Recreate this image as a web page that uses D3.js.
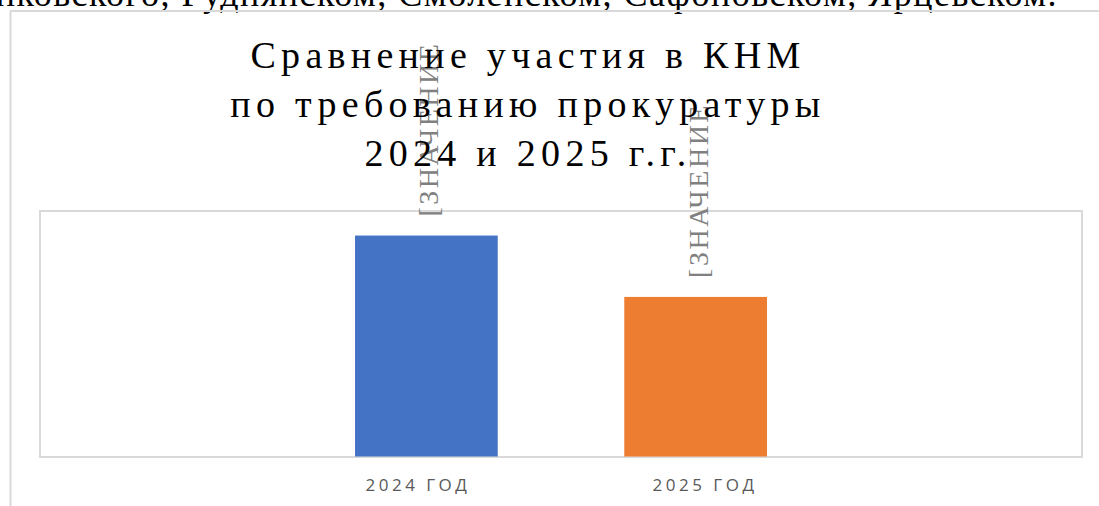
<!DOCTYPE html>
<html>
<head>
<meta charset="utf-8">
<script src="https://cdn.jsdelivr.net/npm/d3@7"></script>
<style>
    body { margin: 0; background: #ffffff; }
    svg { display: block; }
</style>
</head>
<body>
<div id="chart"></div>
<script>
// chart data
var categories = ['2024 год', '2025 год'];
var values = [18, 13];
var colors = ['#4472C4', '#ED7D31'];
var valueLabel = '[ЗНАЧЕНИЕ';
var titleLines = ['Сравнение участия в КНМ', 'по требованию прокуратуры', '2024 и 2025 г.г.'];
var docText = 'Починковского, Руднянском, Смоленском, Сафоновском, Ярцевском.';
var yMax = 20;

var svg = d3.select('#chart')
    .append('svg')
    .attr('width', 1099)
    .attr('height', 506);

// document text above the chart (cut off by the crop)
svg.append('text')
    .attr('x', 1058)
    .attr('y', 6)
    .attr('text-anchor', 'end')
    .attr('font-family', 'Liberation Serif')
    .attr('font-size', '36px')
    .attr('letter-spacing', '1.5px')
    .attr('fill', '#000')
    .text(docText);

// chart frame (left and top edge visible)
svg.append('line')
    .attr('x1', 10.5).attr('y1', 11)
    .attr('x2', 10.5).attr('y2', 506)
    .attr('stroke', '#d9d9d9').attr('stroke-width', 2);
svg.append('line')
    .attr('x1', 10).attr('y1', 11)
    .attr('x2', 1099).attr('y2', 11)
    .attr('stroke', '#d9d9d9').attr('stroke-width', 2);

var plotLeft = 40, plotRight = 1082, plotTop = 211, plotBottom = 457;

var x = d3.scaleBand()
    .domain(categories)
    .range([plotLeft, plotRight])
    .paddingInner(0.47)
    .paddingOuter(1.17);

var xLabels = d3.scalePoint()
    .domain(categories)
    .range([plotLeft, plotRight])
    .padding(1.315);

var y = d3.scaleLinear()
    .domain([0, yMax])
    .range([plotBottom - 0.5, plotTop]);

// plot area border
svg.append('rect')
    .attr('x', plotLeft)
    .attr('y', plotTop)
    .attr('width', plotRight - plotLeft)
    .attr('height', plotBottom - plotTop)
    .attr('fill', 'none')
    .attr('stroke', '#d9d9d9')
    .attr('stroke-width', 2);

// bars
svg.selectAll('.bar')
    .data(values)
    .enter()
    .append('rect')
    .attr('class', 'bar')
    .attr('x', function(d, i) { return x(categories[i]); })
    .attr('y', function(d) { return y(d); })
    .attr('width', x.bandwidth())
    .attr('height', function(d) { return y(0) - y(d); })
    .attr('fill', function(d, i) { return colors[i]; });

// category axis
var axis = svg.append('g')
    .attr('transform', 'translate(0,' + plotBottom + ')')
    .call(d3.axisBottom(xLabels).tickSize(0).tickPadding(22).tickFormat(function(d) { return d.toUpperCase(); }));
axis.select('.domain').remove();
axis.selectAll('text')
    .attr('font-family', 'Open Sans')
    .attr('font-size', '17px')
    .attr('letter-spacing', '3.5px')
    .attr('fill', '#595959');

// rotated value labels
svg.selectAll('.vlabel')
    .data(values)
    .enter()
    .append('text')
    .attr('class', 'vlabel')
    .attr('transform', function(d, i) {
        var cx = x(categories[i]) + x.bandwidth() / 2 + 12;
        return 'translate(' + cx + ',' + (y(d) - 19) + ') rotate(-90)';
    })
    .attr('font-family', 'Liberation Serif')
    .attr('font-size', '28px')
    .attr('letter-spacing', '2.5px')
    .attr('fill', '#808080')
    .text(valueLabel);

// title
svg.append('g')
    .selectAll('text')
    .data(titleLines)
    .enter()
    .append('text')
    .attr('x', 528)
    .attr('y', function(d, i) { return 68 + i * 49; })
    .attr('text-anchor', 'middle')
    .attr('font-family', 'Liberation Serif')
    .attr('font-size', '38px')
    .attr('letter-spacing', '5.3px')
    .attr('fill', '#000')
    .text(function(d) { return d; });
</script>
</body>
</html>
